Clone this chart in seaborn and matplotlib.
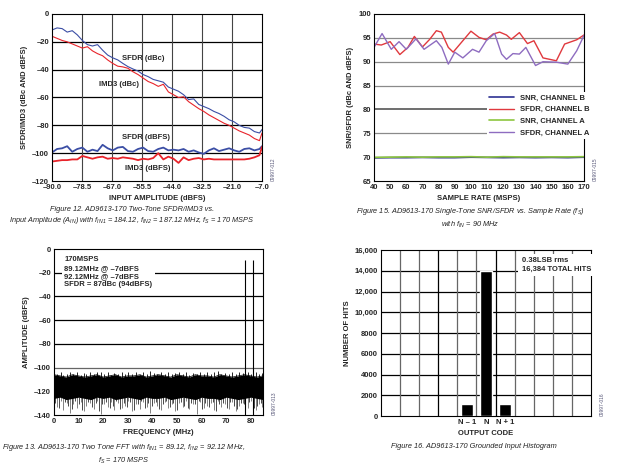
import numpy as np
import pandas as pd
import matplotlib.pyplot as plt
import seaborn as sns

# ---- Figure 12: two-tone SFDR/IMD3 vs input amplitude ----
amp = [-90, -88, -86, -84, -82, -80, -78, -76, -74, -72, -70, -68, -66, -64, -62,
       -60, -58, -56, -54, -52, -50, -48, -46, -44, -42, -40, -38, -36, -34, -32,
       -30, -28, -26, -24, -22, -20, -18, -16, -14, -12, -10, -8, -7]
sfdr_dbc = [-11.5, -10, -10.5, -13, -12, -15, -19, -22, -23, -22, -26, -29.5, -31.5, -33, -35.5,
            -37.8, -39.5, -41, -43.5, -45, -47, -48, -49, -52.5, -54, -55.5, -58, -61.5, -61, -65,
            -66.5, -68, -70, -71.5, -73.5, -76, -77.5, -80, -81.5, -82, -84.5, -85.5, -83]
imd3_dbc = [-16, -17.5, -19, -20, -21.5, -23, -24.5, -23.5, -26.5, -28.5, -30, -33, -35.5, -37.5, -38,
            -39, -41.5, -43.5, -46, -48.5, -50, -52, -50.5, -56, -58, -60, -59.5, -63, -65.5, -68,
            -70, -72.5, -74.5, -76.5, -78.5, -80, -82, -84, -85.5, -87, -89.5, -91, -85.5]
sfdr_dbfs = [-99.5, -97, -96.5, -95, -99, -97, -96, -99, -97.5, -98.5, -94, -96.5, -98, -96, -95.5,
             -98.5, -99, -97, -96, -98.5, -99, -97, -96, -98, -97.5, -98, -97, -99, -98, -99.5,
             -100.5, -98, -96.5, -98.5, -97.5, -96.5, -98, -99, -97, -96.5, -98, -97, -95]
imd3_dbfs = [-106, -105.5, -105, -105, -104.5, -104.5, -102, -103, -104, -103, -102.5, -104, -103.5, -104, -103,
             -103.5, -104, -105, -104, -104.5, -103.5, -100, -104.5, -102.5, -104, -107, -103, -105, -104, -103.5,
             -104.5, -104, -104.5, -104.5, -104.5, -104.5, -104.5, -104.5, -104.5, -104, -103, -101.5, -95.5]
amp_ticklabels = ["–90.0", "–78.5", "–67.0", "–55.5", "–44.0", "–32.5", "–21.0", "–7.0"]

# ---- Figure 15: SNR/SFDR vs sample rate ----
rate_red = [40, 44.5, 50, 56, 61, 65, 70, 74.5, 78.6, 81.7, 86, 89, 94, 100, 105, 109.5, 113.7,
            117.8, 122, 125, 130, 135, 139, 144.6, 152.9, 158, 165.5, 170]
sfdr_b = [93.7, 93.5, 94.2, 91.5, 93, 95.3, 93.1, 94.7, 96.5, 96.2, 93, 92, 94, 96.4, 95.1, 94.6, 95.8,
          96.2, 95.6, 94.7, 96.1, 93.8, 94.4, 90.8, 90.2, 93.7, 94.6, 95.6]
rate_pur = [40, 45, 50.7, 55.5, 60, 66, 71, 78.6, 82, 86, 90, 95, 101, 105, 109.5, 114.7, 119,
            122, 126, 130, 134, 140, 144.6, 152.9, 160, 165.5, 170]
sfdr_a = [93, 95.9, 92.6, 94.2, 92.6, 94.8, 92.6, 94.4, 93, 89.5, 92, 90.8, 92.6, 92, 94.4, 95.9, 91.6,
          90.5, 91.7, 91.6, 93, 89.2, 90, 89.9, 89.5, 92.3, 95.5]
rate_snr = [40, 50, 60, 70, 80, 90, 100, 110, 120, 130, 140, 150, 160, 170]
snr_b = [69.85, 69.9, 69.9, 69.95, 69.9, 69.9, 70.0, 69.95, 69.9, 69.95, 69.9, 69.95, 69.9, 70.0]
snr_a = [69.95, 70.0, 70.05, 70.0, 70.05, 70.05, 70.1, 70.0, 70.1, 70.05, 70.05, 70.05, 70.05, 70.1]

# ---- Figure 13: two-tone FFT ----
fft_f = [0, 2.5, 5, 7.5, 10, 12.5, 15, 17.5, 20, 22.5, 25, 27.5, 30, 32.5, 35, 37.5, 40, 42.5,
         45, 47.5, 50, 52.5, 55, 57.5, 60, 62.5, 65, 67.5, 70, 72.5, 75, 77.5, 80, 82.5, 85]
fft_top = [-106, -107, -108, -106, -107, -108, -107, -106, -108, -107, -106, -108, -107, -107, -106, -108, -107, -106,
           -107, -108, -106, -107, -108, -106, -107, -107, -108, -106, -107, -108, -107, -106, -107, -108, -107]
fft_bot = [-126, -125, -127, -126, -125, -126, -127, -125, -126, -125, -127, -126, -125, -126, -127, -125, -126, -126,
           -125, -127, -126, -125, -126, -127, -125, -126, -126, -127, -125, -126, -127, -126, -125, -126, -127]
spike_f = [1.2, 2.8, 3.6, 5.1, 6.4, 7.9, 9.3, 10.8, 12.2, 13.1, 14.7, 16.3, 17.5, 19.0, 20.4, 21.8, 23.3,
           24.6, 26.1, 27.7, 29.0, 30.2, 31.9, 33.4, 34.8, 36.1, 37.7, 39.2, 40.5, 42.0, 43.6, 45.1, 46.3,
           47.9, 49.2, 50.8, 52.3, 53.7, 55.0, 56.6, 58.1, 59.4, 60.9, 62.3, 63.8, 65.2, 66.5, 68.1, 69.6,
           71.0, 72.4, 73.9, 75.3, 76.7, 78.9, 80.1, 82.0, 83.4, 84.6]
spike_lo = [-133, -128, -136, -130, -138, -131, -134, -129, -137, -132, -130, -135, -128, -139, -131, -133,
            -129, -136, -130, -134, -132, -128, -137, -131, -135, -129, -133, -138, -130, -132, -136, -129,
            -134, -131, -137, -130, -133, -128, -135, -131, -139, -129, -134, -132, -130, -136, -128, -133,
            -131, -135, -129, -137, -132, -130, -134, -128, -136, -131, -133]
spike_hi = [-105, -104, -106, -105, -103.5, -105, -104, -106, -104.5, -105, -104, -105.5, -104, -103.5, -105,
            -104, -106, -104.5, -105, -104, -105, -103.5, -105, -104, -106, -104, -105, -103, -104.5, -105,
            -104, -105.5, -104, -105, -104.5, -104, -105, -104, -106, -104.5, -105, -104, -105, -104, -105.5,
            -104, -103, -105, -104.5, -105, -104, -105, -104, -104.5, -104, -105, -104, -105, -104.5]
spike2_f = [0.6, 2.1, 4.4, 5.8, 7.2, 8.6, 10.1, 11.5, 13.8, 15.4, 16.9, 18.2, 19.7, 21.1, 22.6, 24.0,
            25.4, 26.9, 28.3, 29.7, 31.1, 32.6, 34.1, 35.5, 36.9, 38.4, 39.8, 41.3, 42.8, 44.3, 45.7,
            47.2, 48.5, 50.0, 51.6, 53.0, 54.4, 55.8, 57.3, 58.8, 60.2, 61.6, 63.1, 64.5, 65.9, 67.3,
            68.8, 70.3, 71.7, 73.2, 74.6, 76.0, 77.4, 79.5, 81.3, 82.7, 84.1]
spike2_lo = [-130, -134, -129, -132, -135, -128, -131, -136, -129, -133, -130, -137, -131, -129, -134, -132,
             -128, -135, -130, -133, -129, -136, -131, -128, -134, -130, -132, -129, -135, -131, -128,
             -133, -130, -136, -129, -132, -134, -130, -131, -128, -135, -130, -133, -129, -137, -131,
             -130, -134, -129, -132, -135, -130, -131, -129, -134, -132, -130]
tone_f = [77.88, 80.88]
tone_db = [-9, -9]

# ---- Figure 16: grounded input histogram ----
codes = [-1, 0, 1]
code_labels = ["N – 1", "N", "N + 1"]
hits = [1180, 14000, 1204]

# ---- style ----
sns.set_style("white")
plt.rcParams["font.family"] = ["Liberation Sans", "DejaVu Sans"]
plt.rcParams["mathtext.default"] = "regular"
FS = 5.5
tick_kw = dict(labelsize=FS, length=0, pad=2)

fig = plt.figure(figsize=(6.2, 4.73), dpi=100)
W, H = 620, 473


def box(l, t, r, b):
    return [l / W, 1 - b / H, (r - l) / W, (b - t) / H]


def finish(ax, xl, yl, code):
    ax.tick_params(**tick_kw)
    for lab in ax.get_xticklabels() + ax.get_yticklabels():
        lab.set_fontweight("bold")
    ax.set_xlabel(xl, fontsize=FS, fontweight="bold", labelpad=3)
    ax.set_ylabel(yl, fontsize=FS, fontweight="bold", labelpad=3)
    for s in ax.spines.values():
        s.set_color("black")
        s.set_linewidth(0.8)
    ax.text(1.04, 0.0, code, transform=ax.transAxes, rotation=90, fontsize=3.5,
            color="#555577", va="bottom", ha="left")


def caption(x, y, lines):
    fig.text(x / W, 1 - y / H, "\n".join(lines), ha="center", va="top", fontsize=5.3,
             style="italic", linespacing=1.35, color="#222222")


# Figure 12
ax1 = fig.add_axes(box(52, 14, 262, 181))
for yv in range(-100, 0, 20):
    ax1.axhline(yv, color="black", lw=0.9, zorder=0)
for xv in np.linspace(-90, -7, 8)[1:-1]:
    ax1.axvline(xv, color="#444444", lw=0.8, zorder=0)
sns.lineplot(x=amp, y=sfdr_dbc, ax=ax1, color="#3b4ea5", lw=0.8)
sns.lineplot(x=amp, y=imd3_dbc, ax=ax1, color="#e8242b", lw=0.8)
sns.lineplot(x=amp, y=sfdr_dbfs, ax=ax1, color="#3b4ea5", lw=1.3)
sns.lineplot(x=amp, y=imd3_dbfs, ax=ax1, color="#e8242b", lw=1.3)
ax1.set_xlim(-90, -7)
ax1.set_ylim(-120, 0)
ax1.set_xticks(np.linspace(-90, -7, 8))
ax1.set_xticklabels(amp_ticklabels)
ax1.set_yticks(range(-120, 1, 20))
ax1.set_yticklabels(["–120", "–100", "–80", "–60", "–40", "–20", "0"])
lbl = dict(fontsize=FS, fontweight="bold", ha="center", va="center")
ax1.text(-54, -32, "SFDR (dBc)", **lbl)
ax1.text(-63.4, -51, "IMD3 (dBc)", **lbl)
ax1.text(-52.8, -88.6, "SFDR (dBFS)", **lbl)
ax1.text(-52, -111, "IMD3 (dBFS)", **lbl)
finish(ax1, "INPUT AMPLITUDE (dBFS)", "SFDR/IMD3 (dBc AND dBFS)", "09997-012")

# Figure 15
ax2 = fig.add_axes(box(374, 14, 584, 181))
for yv in range(70, 100, 5):
    ax2.axhline(yv, color="#8a8a8a" if yv != 80 else "#555555", lw=0.9 if yv != 80 else 1.2, zorder=0)
sns.lineplot(x=rate_snr, y=snr_b, ax=ax2, color="#2e3192", lw=1.2, label="SNR, CHANNEL B")
sns.lineplot(x=rate_red, y=sfdr_b, ax=ax2, color="#e0393e", lw=1.0, label="SFDR, CHANNEL B")
sns.lineplot(x=rate_snr, y=snr_a, ax=ax2, color="#8dc63f", lw=1.2, label="SNR, CHANNEL A")
sns.lineplot(x=rate_pur, y=sfdr_a, ax=ax2, color="#8e6cc0", lw=1.0, label="SFDR, CHANNEL A")
ax2.set_xlim(40, 170)
ax2.set_ylim(65, 100)
ax2.set_xticks(range(40, 171, 10))
ax2.set_yticks(range(65, 101, 5))
leg = ax2.legend(loc="upper left", bbox_to_anchor=(0.52, 0.555), frameon=True, fontsize=FS,
                 handlelength=3.2, labelspacing=0.55, borderpad=0.3, framealpha=1)
leg.get_frame().set_edgecolor("white")
leg.get_frame().set_linewidth(0)
for t in leg.get_texts():
    t.set_fontweight("bold")
finish(ax2, "SAMPLE RATE (MSPS)", "SNR/SFDR (dBc AND dBFS)", "09997-015")

# Figure 13
ax3 = fig.add_axes(box(54, 249, 263, 415))
for yv in range(-100, 0, 20):
    ax3.axhline(yv, color="black" if yv != -100 else "#666666", lw=0.9, zorder=0)
ax3.fill_between(fft_f, fft_bot, fft_top, color="black", lw=0, zorder=2)
ax3.vlines(spike_f, [-125] * len(spike_f), spike_lo, color="#6e6e6e", lw=0.6, zorder=1)
ax3.vlines(spike2_f, [-125] * len(spike2_f), spike2_lo, color="black", lw=0.5, zorder=1)
ax3.vlines(spike_f, [-110] * len(spike_f), spike_hi, color="black", lw=0.6, zorder=2)
ax3.vlines(tone_f, -140, tone_db, color="black", lw=0.8, zorder=3)
sns.lineplot(x=fft_f, y=fft_top, ax=ax3, color="black", lw=0.5)
ax3.set_xlim(0, 85)
ax3.set_ylim(-140, 0)
ax3.set_xticks(range(0, 81, 10))
ax3.set_yticks(range(-140, 1, 20))
ax3.set_yticklabels(["–140", "–120", "–100", "–80", "–60", "–40", "–20", "0"])
ax3.text(0.05, 0.955, "170MSPS\n89.12MHz @ –7dBFS\n92.12MHz @ –7dBFS\nSFDR = 87dBc (94dBFS)",
         transform=ax3.transAxes, fontsize=FS, fontweight="bold", va="top", ha="left",
         linespacing=1.25, zorder=5,
         bbox=dict(facecolor="white", edgecolor="none", pad=2))
finish(ax3, "FREQUENCY (MHz)", "AMPLITUDE (dBFS)", "09997-013")

# Figure 16
ax4 = fig.add_axes(box(381, 250, 591, 416))
hist = pd.DataFrame({"code": codes, "hits": hits})
sns.barplot(data=hist, x="code", y="hits", ax=ax4, native_scale=True, color="black",
            width=0.6, saturation=1, zorder=3)
ax4.set_xlim(-5.5, 5.5)
ax4.set_ylim(0, 16000)
ax4.set_xticks(codes)
ax4.set_xticklabels(code_labels)
ax4.set_yticks(range(0, 16001, 2000))
ax4.set_yticklabels(["0", "2000", "4000", "6000", "8000", "10,000", "12,000", "14,000", "16,000"])
for yv in range(2000, 16000, 2000):
    ax4.axhline(yv, color="black", lw=0.9, zorder=0)
for xv in np.arange(-4.5, 5, 1.0):
    ax4.axvline(xv, color="black" if xv in (-2.5, 0.5) else "#666666", lw=0.9, zorder=0)
ax4.text(0.67, 0.955, "0.38LSB rms\n16,384 TOTAL HITS", transform=ax4.transAxes, fontsize=FS,
         fontweight="bold", va="top", ha="left", linespacing=1.3, zorder=5,
         bbox=dict(facecolor="white", edgecolor="none", pad=2.5))
finish(ax4, "OUTPUT CODE", "NUMBER OF HITS", "09997-016")

# captions
caption(132, 206, ["Figure 12. AD9613-170 Two-Tone SFDR/IMD3 vs.",
                   "Input Amplitude (A$_{IN}$) with f$_{IN1}$ = 184.12, f$_{IN2}$ = 187.12 MHz, f$_S$ = 170 MSPS"])
caption(470, 206, ["Figure 15. AD9613-170 Single-Tone SNR/SFDR vs. Sample Rate (f$_S$)",
                   "with f$_{IN}$ = 90 MHz"])
caption(124, 442, ["Figure 13. AD9613-170 Two Tone FFT with f$_{IN1}$ = 89.12, f$_{IN2}$ = 92.12 MHz,",
                   "f$_S$ = 170 MSPS"])
caption(474, 443, ["Figure 16. AD9613-170 Grounded Input Histogram"])

fig.savefig("out.png", dpi=100)
